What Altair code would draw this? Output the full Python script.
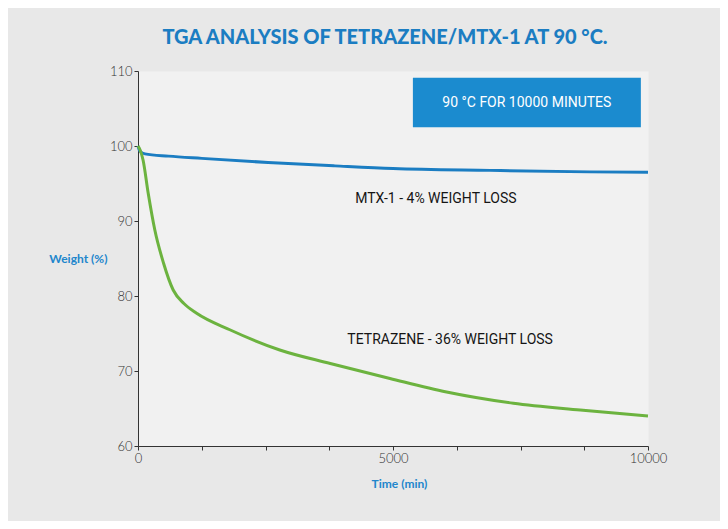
import altair as alt
import pandas as pd

# ---- data ----
mtx_time = [0, 40, 137, 600, 1250, 2550, 3860, 5000, 6900, 8860, 10000]
mtx_weight = [100.0, 99.3, 98.95, 98.65, 98.35, 97.8, 97.35, 97.0, 96.75, 96.55, 96.5]

tet_time = [0, 40, 100, 200, 330, 500, 690, 900, 1150, 1800, 2780, 3770, 4940, 6050, 7360, 8670, 10000]
tet_weight = [100.0, 99.5, 98.1, 93.7, 88.8, 84.4, 80.8, 79.0, 77.7, 75.5, 72.8, 71.0, 69.0, 67.2, 65.7, 64.8, 64.0]

box_x = [5390]
box_x2 = [9860]
box_y = [109.1]
box_y2 = [102.5]
box_label = ["90 °C FOR 10000 MINUTES"]
box_label_x = [7625]
box_label_y = [105.8]

note_text = ["MTX-1 - 4% WEIGHT LOSS", "TETRAZENE - 36% WEIGHT LOSS"]
note_x = [5840, 6120]
note_y = [92.9, 74.1]

y_ticks = [60 + 2.5 * i for i in range(21)]
x_ticks = [1250 * i for i in range(9)]

BLUE = "#1b7dc2"
GREEN = "#6cb33f"
BOX = "#1b8bcf"
NARROW = "Roboto"

lines = pd.concat([
    pd.DataFrame({"time": mtx_time, "weight": mtx_weight, "series": "MTX-1"}),
    pd.DataFrame({"time": tet_time, "weight": tet_weight, "series": "Tetrazene"}),
])

xscale = alt.Scale(domain=[0, 10000], nice=False, zero=False)
yscale = alt.Scale(domain=[60, 110], nice=False, zero=False)

xaxis = alt.Axis(
    values=x_ticks, labelExpr="datum.value % 5000 === 0 ? datum.value : ''",
    grid=False, tickSize=4, labelPadding=2, labelFlush=False,
    title="Time (min)", titleX=261, titleY=37, titleBaseline="middle",
)
yaxis = alt.Axis(
    values=y_ticks, labelExpr="datum.value % 10 === 0 ? datum.value : ''",
    grid=False, tickSize=4, labelPadding=2,
    title="Weight (%)", titleAngle=0, titleAlign="right", titleBaseline="middle",
    titleX=-31, titleY=187,
)

line_chart = alt.Chart(lines).mark_line(strokeWidth=3, interpolate="monotone").encode(
    x=alt.X("time:Q", scale=xscale, axis=xaxis),
    y=alt.Y("weight:Q", scale=yscale, axis=yaxis),
    color=alt.Color("series:N", scale=alt.Scale(domain=["MTX-1", "Tetrazene"], range=[BLUE, GREEN]), legend=None),
)

box_df = pd.DataFrame({"x": box_x, "x2": box_x2, "y": box_y, "y2": box_y2})
box = alt.Chart(box_df).mark_rect(color=BOX).encode(
    x=alt.X("x:Q", scale=xscale), x2="x2:Q",
    y=alt.Y("y:Q", scale=yscale), y2="y2:Q",
)

box_text_df = pd.DataFrame({"t": box_label, "x": box_label_x, "y": box_label_y})
box_text = alt.Chart(box_text_df).mark_text(
    color="white", font=NARROW, fontSize=14, align="center", baseline="middle"
).encode(x=alt.X("x:Q", scale=xscale), y=alt.Y("y:Q", scale=yscale), text="t:N")

note_df = pd.DataFrame({"t": note_text, "x": note_x, "y": note_y})
notes = alt.Chart(note_df).mark_text(
    color="#151515", font=NARROW, fontSize=14, align="center", baseline="middle"
).encode(x=alt.X("x:Q", scale=xscale), y=alt.Y("y:Q", scale=yscale), text="t:N")

chart = alt.layer(box, line_chart, box_text, notes).properties(
    width=510, height=375,
    autosize=alt.AutoSizeParams(type="none"),
    padding={"left": 130, "top": 63, "right": 72, "bottom": 75},
    background="#e8e8e8",
    title=alt.TitleParams(
        "TGA ANALYSIS OF TETRAZENE/MTX-1 AT 90 °C.",
        font="Lato", fontWeight=900, fontSize=20, color=BLUE,
        anchor="middle", dx=-8, offset=17,
    ),
).configure_view(fill="#f1f1f1", strokeOpacity=0).configure_axis(
    domainColor="#333333", tickColor="#333333", labelColor="#333333",
    labelFont="Lato", labelFontSize=13, labelFontWeight=300,
    titleFont="Lato", titleFontSize=12, titleFontWeight="bold", titleColor="#2186cc",
)

chart.save("out.html", embed_options={"renderer": "svg", "actions": False})
